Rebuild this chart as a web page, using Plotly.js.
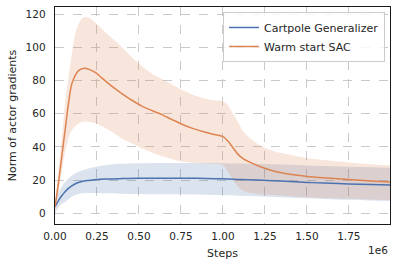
<!DOCTYPE html>
<html>
<head>
<meta charset="utf-8">
<script src="https://cdn.plot.ly/plotly-3.0.1.min.js"></script>
<style>html,body{margin:0;padding:0;background:#fff;}#chart{width:396px;height:268px;}</style>
</head>
<body>
<div id="chart"></div>
<script>
// Steps (in units of 1e6)
const orangeSteps = [0, 0.02, 0.04, 0.06, 0.08, 0.10, 0.12, 0.14, 0.16, 0.18, 0.21, 0.24, 0.28, 0.34, 0.40, 0.46, 0.52, 0.58, 0.64, 0.70, 0.76, 0.82, 0.88, 0.94, 1.00, 1.03, 1.06, 1.09, 1.12, 1.16, 1.22, 1.30, 1.40, 1.50, 1.62, 1.75, 1.88, 1.995];
const warmMean  = [3.8, 18, 34, 50, 66, 78, 83, 86, 87.2, 87.4, 86.5, 85, 81.5, 76.5, 72, 68, 64.5, 61.8, 59.3, 56.3, 53.5, 51.2, 49.3, 47.6, 46.2, 43.5, 39.5, 35.5, 33, 30.8, 28.2, 25.5, 23.5, 22.2, 21.2, 20.3, 19.5, 18.8];
const warmUpper = [4, 25, 45, 66, 82, 96, 108, 114, 117.4, 118.3, 117.5, 115, 111.2, 105.5, 100, 94, 88.5, 84, 80.8, 77.5, 74.2, 71.5, 69.5, 68.2, 67.5, 65, 60, 55, 49.5, 45.5, 41, 37.5, 35.2, 33.2, 32, 30.6, 29.6, 28.9];
const warmLower = [3, 12, 25, 37, 45, 50, 52.5, 54, 55, 55.3, 55, 54.3, 52.5, 49, 45, 42, 39, 36.5, 34.3, 32.5, 31, 30.5, 30.2, 29.8, 29, 25, 20, 16, 13.5, 12.3, 11.5, 11, 10.3, 9.7, 9.2, 8.7, 8.3, 8];

const blueSteps = [0, 0.02, 0.04, 0.06, 0.08, 0.10, 0.13, 0.16, 0.20, 0.25, 0.30, 0.40, 0.50, 0.60, 0.70, 0.80, 0.90, 1.00, 1.10, 1.20, 1.30, 1.40, 1.50, 1.60, 1.75, 1.88, 1.995];
const genMean  = [3.8, 7.5, 10.5, 13, 15, 16.5, 18.2, 19.2, 19.8, 20.3, 20.6, 20.9, 21.1, 21.1, 21.1, 21.1, 21.0, 20.8, 20.4, 20.0, 19.6, 19.1, 18.6, 18.2, 17.7, 17.4, 17.1];
const genUpper = [7.8, 12.5, 16, 18.9, 21, 22.6, 24.5, 25.8, 27, 28.2, 29, 29.8, 30.1, 30.3, 30.3, 30.3, 30.3, 30.2, 30, 29.8, 29.5, 29.2, 28.8, 28.5, 28.1, 27.8, 27.5];
const genLower = [0, 3.5, 5.5, 6.8, 8.5, 10, 11.3, 12, 12.2, 12.2, 12, 11.8, 11.6, 11.4, 11.4, 11.3, 11.2, 11, 10.6, 10.2, 9.8, 9.4, 9, 8.6, 8.1, 7.7, 7.4];

const seriesNames = ["Cartpole Generalizer", "Warm start SAC"];
const xTickVals = [0, 0.25, 0.5, 0.75, 1.0, 1.25, 1.5, 1.75];
const xTickText = ["0.00", "0.25", "0.50", "0.75", "1.00", "1.25", "1.50", "1.75"];
const yTickVals = [0, 20, 40, 60, 80, 100, 120];

const scale = v => v * 1e6;
const bx = blueSteps.map(scale);
const ox = orangeSteps.map(scale);
const blue = "#4c72b0", orange = "#dd8452";

const traces = [
  {x: bx, y: genLower, mode: "lines", line: {width: 0, shape: "spline"}, showlegend: false, hoverinfo: "skip"},
  {x: bx, y: genUpper, mode: "lines", line: {width: 0, shape: "spline"}, fill: "tonexty", fillcolor: "rgba(76,114,176,0.2)", showlegend: false, hoverinfo: "skip"},
  {x: ox, y: warmLower, mode: "lines", line: {width: 0, shape: "spline"}, showlegend: false, hoverinfo: "skip"},
  {x: ox, y: warmUpper, mode: "lines", line: {width: 0, shape: "spline"}, fill: "tonexty", fillcolor: "rgba(221,132,82,0.2)", showlegend: false, hoverinfo: "skip"},
  {x: bx, y: genMean, mode: "lines", name: seriesNames[0], line: {color: blue, width: 1.5, shape: "spline"}},
  {x: ox, y: warmMean, mode: "lines", name: seriesNames[1], line: {color: orange, width: 1.5, shape: "spline"}}
];

const txt = "#262626";
const axisCommon = {
  showline: true, mirror: true, linecolor: "#1a1a1a", linewidth: 1.25,
  showgrid: true, gridcolor: "#bdbdbd", griddash: "dash", gridwidth: 0.8,
  zeroline: false, ticks: "", tickfont: {family: "DejaVu Sans", size: 10.5, color: txt}
};

const layout = {
  width: 396, height: 268,
  margin: {l: 55, r: 6, t: 7, b: 44},
  paper_bgcolor: "#fff", plot_bgcolor: "#fff",
  font: {family: "DejaVu Sans", size: 10.5, color: txt},
  xaxis: Object.assign({}, axisCommon, {
    range: [0, 1.995e6], tickvals: xTickVals.map(scale), ticktext: xTickText,
    ticklabelstandoff: 2,
    title: {text: "Steps", font: {family: "DejaVu Sans", size: 11, color: txt}, standoff: 8}
  }),
  yaxis: Object.assign({}, axisCommon, {
    range: [-6.5, 124.4], tickvals: yTickVals,
    ticklabelstandoff: 6,
    title: {text: "Norm of actor gradients", font: {family: "DejaVu Sans", size: 11, color: txt}, standoff: 6}
  }),
  legend: {
    x: 0.985, y: 0.977, xanchor: "right", yanchor: "top",
    traceorder: "normal",
    bgcolor: "rgba(255,255,255,0.8)", bordercolor: "#cccccc", borderwidth: 1,
    font: {family: "DejaVu Sans", size: 11, color: txt},
    tracegroupgap: 0
  },
  annotations: [{
    text: "1e6", xref: "paper", yref: "paper", x: 1, y: 0, xanchor: "right", yanchor: "top",
    yshift: -18, showarrow: false, font: {family: "DejaVu Sans", size: 10.5, color: txt}
  }]
};

Plotly.newPlot("chart", traces, layout, {staticPlot: true, displayModeBar: false});
</script>
</body>
</html>
